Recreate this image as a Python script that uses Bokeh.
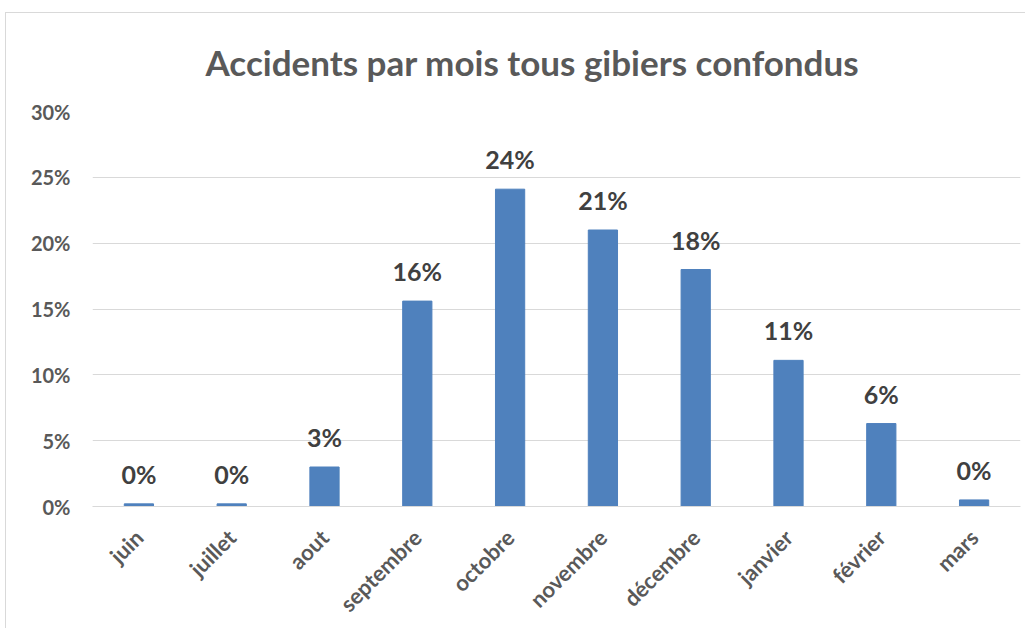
from math import pi
from bokeh.plotting import figure
from bokeh.models import ColumnDataSource, FixedTicker, NumeralTickFormatter, Range1d
from bokeh.core.properties import value
from bokeh.embed import file_html
from bokeh.resources import INLINE

months = ["juin", "juillet", "aout", "septembre", "octobre", "novembre",
          "décembre", "janvier", "février", "mars"]
shares = [0.002, 0.002, 0.030, 0.156, 0.241, 0.210, 0.180, 0.111, 0.063, 0.005]
labels = ["0%", "0%", "3%", "16%", "24%", "21%", "18%", "11%", "6%", "0%"]
y_ticks = [0.0, 0.05, 0.10, 0.15, 0.20, 0.25, 0.30]
title_text = "Accidents par mois tous gibiers confondus"

FONT = "Lato"
GRAY = "#595959"

src = ColumnDataSource(dict(month=months, share=shares, label=labels))

p = figure(x_range=months, y_range=Range1d(0, 0.30), width=1020, height=616,
           output_backend="svg", toolbar_location=None,
           min_border_left=86, min_border_right=6, min_border_top=98,
           min_border_bottom=119)
p.styles = {"margin-left": "5px", "margin-top": "12px",
            "border-left": "1px solid #d9d9d9", "border-top": "1px solid #d9d9d9"}

p.title.text = title_text
p.title.text_font = FONT
p.title.text_font_size = "35px"
p.title.text_font_style = "bold"
p.title.text_color = GRAY
p.title.align = "left"
p.title.offset = 113
p.title.standoff = 54
p.title.vertical_align = "top"

p.vbar(x="month", top="share", width=0.315, source=src,
       fill_color="#4F81BD", line_color="#4F81BD")

p.text(x="month", y="share", text="label", source=src,
       text_align="center", text_baseline="alphabetic", y_offset=-30,
       text_font=value(FONT), text_font_size="25px", text_font_style="bold",
       text_color="#404040")

p.outline_line_color = None
p.xgrid.grid_line_color = None
p.ygrid.grid_line_color = "#d9d9d9"
p.ygrid.grid_line_width = 1

p.yaxis.ticker = FixedTicker(ticks=y_ticks)
p.yaxis.formatter = NumeralTickFormatter(format="0%")
p.yaxis.axis_line_color = None
p.yaxis.major_tick_line_color = None
p.yaxis.minor_tick_line_color = None
p.yaxis.major_tick_out = 0
p.yaxis.major_label_standoff = 22

p.xaxis.axis_line_color = "#d9d9d9"
p.xaxis.major_tick_line_color = None
p.xaxis.major_tick_out = 0
p.xaxis.major_label_orientation = pi / 4
p.xaxis.major_label_standoff = 27

for ax in (p.xaxis, p.yaxis):
    ax.major_label_text_font = FONT
    ax.major_label_text_font_style = "bold"
    ax.major_label_text_color = GRAY
p.yaxis.major_label_text_font_size = "20px"
p.xaxis.major_label_text_font_size = "22px"

p.x_range.range_padding = 0

open("out.html", "w").write(file_html(p, INLINE))
